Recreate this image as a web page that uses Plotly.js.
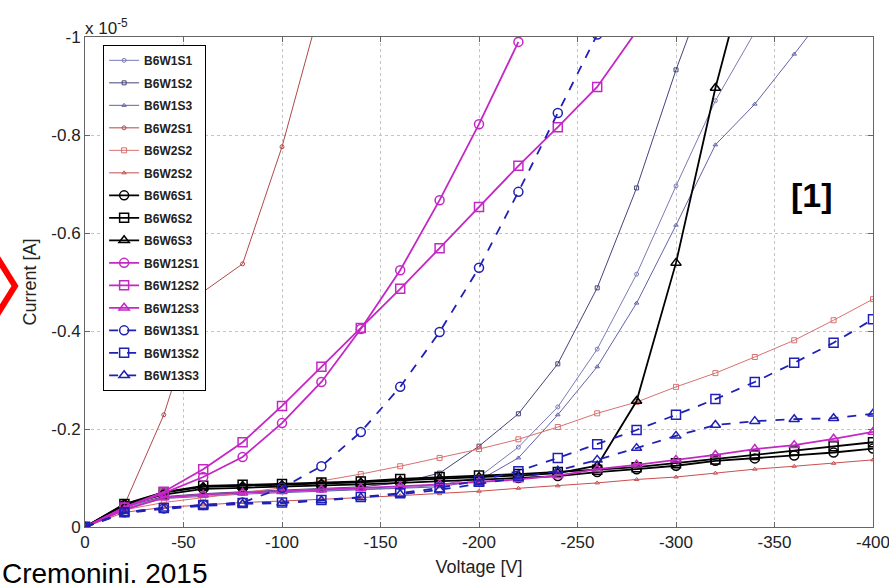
<!DOCTYPE html>
<html>
<head>
<meta charset="utf-8">
<script src="https://cdn.plot.ly/plotly-3.0.1.min.js"></script>
<style>html,body{margin:0;padding:0;background:#fff;}#chart{width:889px;height:583px;}</style>
</head>
<body>
<div id="chart"></div>
<script>
// Voltage steps [V]
const voltage = [0,-20,-40,-60,-80,-100,-120,-140,-160,-180,-200,-220,-240,-260,-280,-300,-320,-340,-360,-380,-400];
// Current values in units of 1e-5 A
const B6W1S1  = [0,-0.04,-0.06,-0.065,-0.07,-0.072,-0.075,-0.078,-0.08,-0.085,-0.102,-0.163,-0.245,-0.363,-0.516,-0.696,-0.87,-1.01];
const B6W1S2  = [0,-0.042,-0.062,-0.068,-0.072,-0.075,-0.078,-0.082,-0.09,-0.11,-0.165,-0.231,-0.333,-0.488,-0.692,-0.933,-1.15];
const B6W1S3  = [0,-0.038,-0.058,-0.063,-0.067,-0.07,-0.073,-0.076,-0.078,-0.082,-0.095,-0.141,-0.229,-0.327,-0.457,-0.616,-0.78,-0.863,-0.965,-1.07];
const B6W2S1  = [0,-0.045,-0.229,-0.48,-0.537,-0.776,-1.07];
const B6W2S2a = [0,-0.035,-0.05,-0.06,-0.07,-0.08,-0.094,-0.108,-0.124,-0.141,-0.159,-0.179,-0.204,-0.232,-0.255,-0.286,-0.314,-0.347,-0.381,-0.422,-0.465];
const B6W2S2b = [0,-0.03,-0.04,-0.045,-0.05,-0.053,-0.056,-0.06,-0.064,-0.068,-0.073,-0.079,-0.084,-0.09,-0.097,-0.102,-0.11,-0.118,-0.124,-0.13,-0.137];
const B6W6S1  = [0,-0.045,-0.066,-0.078,-0.08,-0.082,-0.085,-0.087,-0.09,-0.093,-0.096,-0.1,-0.104,-0.112,-0.118,-0.125,-0.135,-0.14,-0.146,-0.152,-0.16];
const B6W6S2  = [0,-0.047,-0.071,-0.084,-0.086,-0.088,-0.091,-0.093,-0.098,-0.102,-0.105,-0.108,-0.112,-0.117,-0.122,-0.13,-0.138,-0.147,-0.156,-0.165,-0.173];
const B6W6S3  = [0,-0.046,-0.07,-0.082,-0.084,-0.086,-0.089,-0.091,-0.095,-0.099,-0.102,-0.105,-0.11,-0.125,-0.257,-0.539,-0.896,-1.2];
const B6W12S1 = [0,-0.04,-0.069,-0.102,-0.143,-0.212,-0.296,-0.404,-0.524,-0.667,-0.822,-0.99];
const B6W12S2 = [0,-0.04,-0.072,-0.118,-0.173,-0.247,-0.327,-0.406,-0.486,-0.569,-0.653,-0.737,-0.816,-0.898,-1.012];
const B6W12S3 = [0,-0.035,-0.06,-0.066,-0.07,-0.073,-0.076,-0.079,-0.083,-0.087,-0.092,-0.097,-0.105,-0.118,-0.127,-0.137,-0.147,-0.159,-0.167,-0.18,-0.194];
const B6W13S1 = [0,-0.03,-0.038,-0.045,-0.05,-0.08,-0.124,-0.194,-0.286,-0.398,-0.529,-0.684,-0.845,-1.005];
const B6W13S2 = [0,-0.03,-0.039,-0.045,-0.049,-0.05,-0.055,-0.061,-0.069,-0.08,-0.095,-0.114,-0.141,-0.169,-0.198,-0.229,-0.261,-0.296,-0.335,-0.376,-0.424];
const B6W13S3 = [0,-0.028,-0.037,-0.043,-0.047,-0.049,-0.054,-0.06,-0.067,-0.076,-0.088,-0.1,-0.115,-0.137,-0.161,-0.186,-0.208,-0.216,-0.22,-0.222,-0.231];

const xTickVals = [0,-50,-100,-150,-200,-250,-300,-350,-400];
const xTickText = ['0','-50','-100','-150','-200','-250','-300','-350','-400'];
const yTickVals = [0,-0.2,-0.4,-0.6,-0.8,-1];
const yTickText = ['0','-0.2','-0.4','-0.6','-0.8','-1'];

const seriesDefs = [
  ['B6W1S1', B6W1S1, '#7a7ab8', 'circle-open', 4, 1, 'solid'],
  ['B6W1S2', B6W1S2, '#44447a', 'square-open', 4, 1, 'solid'],
  ['B6W1S3', B6W1S3, '#6262a8', 'triangle-up-open', 4, 1, 'solid'],
  ['B6W2S1', B6W2S1, '#b04848', 'circle-open', 4, 1, 'solid'],
  ['B6W2S2', B6W2S2a, '#d87070', 'square-open', 5, 1, 'solid'],
  ['B6W2S2', B6W2S2b, '#c85050', 'triangle-up-open', 4, 1, 'solid'],
  ['B6W6S1', B6W6S1, '#000000', 'circle-open', 9, 1.8, 'solid'],
  ['B6W6S2', B6W6S2, '#000000', 'square-open', 9, 1.8, 'solid'],
  ['B6W6S3', B6W6S3, '#000000', 'triangle-up-open', 9, 1.8, 'solid'],
  ['B6W12S1', B6W12S1, '#c428c4', 'circle-open', 9, 1.8, 'solid'],
  ['B6W12S2', B6W12S2, '#c428c4', 'square-open', 9, 1.8, 'solid'],
  ['B6W12S3', B6W12S3, '#c428c4', 'triangle-up-open', 9, 1.8, 'solid'],
  ['B6W13S1', B6W13S1, '#2020b4', 'circle-open', 9, 1.8, 'dash'],
  ['B6W13S2', B6W13S2, '#2020b4', 'square-open', 9, 1.8, 'dash'],
  ['B6W13S3', B6W13S3, '#2020b4', 'triangle-up-open', 9, 1.8, 'dash']
];

const traces = seriesDefs.map((d, i) => ({
  type: 'scatter', mode: 'lines+markers', name: d[0],
  x: voltage.slice(0, d[1].length), y: d[1],
  line: {color: d[2], width: d[5], dash: d[6]},
  marker: {symbol: d[3], size: d[4], color: d[2], line: {color: d[2], width: d[5] > 1 ? 1.5 : 1}},
  legendgroup: 'g' + i, cliponaxis: true
}));

const font = 'Liberation Sans, Arial, sans-serif';
const layout = {
  width: 889, height: 583,
  margin: {l: 85, r: 16, t: 37, b: 56},
  paper_bgcolor: '#ffffff', plot_bgcolor: '#ffffff',
  font: {family: font, color: '#222'},
  showlegend: true,
  legend: {x: 0.023, y: 0.984, xanchor: 'left', yanchor: 'top', bgcolor: '#ffffff',
    bordercolor: '#000', borderwidth: 1, tracegroupgap: 3.5, traceorder: 'grouped',
    font: {family: font, size: 12, color: '#222', weight: 'bold'}},
  xaxis: {range: [0, -400], tickvals: xTickVals, ticktext: xTickText, ticklabeloverflow: 'allow',
    showgrid: true, gridcolor: '#c4c4c4', griddash: 'dot', gridwidth: 1,
    zeroline: false, showline: true, linecolor: '#666', linewidth: 1, mirror: 'ticks',
    ticks: 'inside', ticklen: 5, tickcolor: '#666',
    tickfont: {family: font, size: 17, color: '#222'},
    title: {text: 'Voltage [V]', font: {family: font, size: 18, color: '#222'}, standoff: 8}},
  yaxis: {range: [0, -1], tickvals: yTickVals, ticktext: yTickText, ticklabeloverflow: 'allow',
    showgrid: true, gridcolor: '#c4c4c4', griddash: 'dot', gridwidth: 1,
    zeroline: false, showline: true, linecolor: '#666', linewidth: 1, mirror: 'ticks',
    ticks: 'inside', ticklen: 5, tickcolor: '#666',
    tickfont: {family: font, size: 17, color: '#222'},
    title: {text: 'Current [A]', font: {family: font, size: 18, color: '#222'}, standoff: 10}},
  annotations: [
    {text: 'x 10<sup>-5</sup>', xref: 'paper', yref: 'paper', x: -0.002, y: 1, xanchor: 'left', yanchor: 'bottom',
     showarrow: false, font: {family: font, size: 17, color: '#222'}, yshift: -3},
    {text: '<b>[1]</b>', xref: 'paper', yref: 'paper', x: (812-85)/788, y: (527-195)/490, xanchor: 'center', yanchor: 'middle',
     showarrow: false, font: {family: font, size: 34, color: '#000'}},
    {text: 'Cremonini, 2015', xref: 'paper', yref: 'paper', x: -85/788, y: (527-556)/490, xanchor: 'left', yanchor: 'top',
     showarrow: false, font: {family: font, size: 28, color: '#000'}}
  ],
  shapes: [
    {type: 'path', xref: 'paper', yref: 'paper',
     path: 'M ' + (-90/788) + ' ' + ((527-254)/490) + ' L ' + (-70/788) + ' ' + ((527-286)/490) + ' L ' + (-90/788) + ' ' + ((527-318)/490),
     line: {color: '#ff0000', width: 6}}
  ]
};

Plotly.newPlot('chart', traces, layout, {staticPlot: true});
</script>
</body>
</html>
